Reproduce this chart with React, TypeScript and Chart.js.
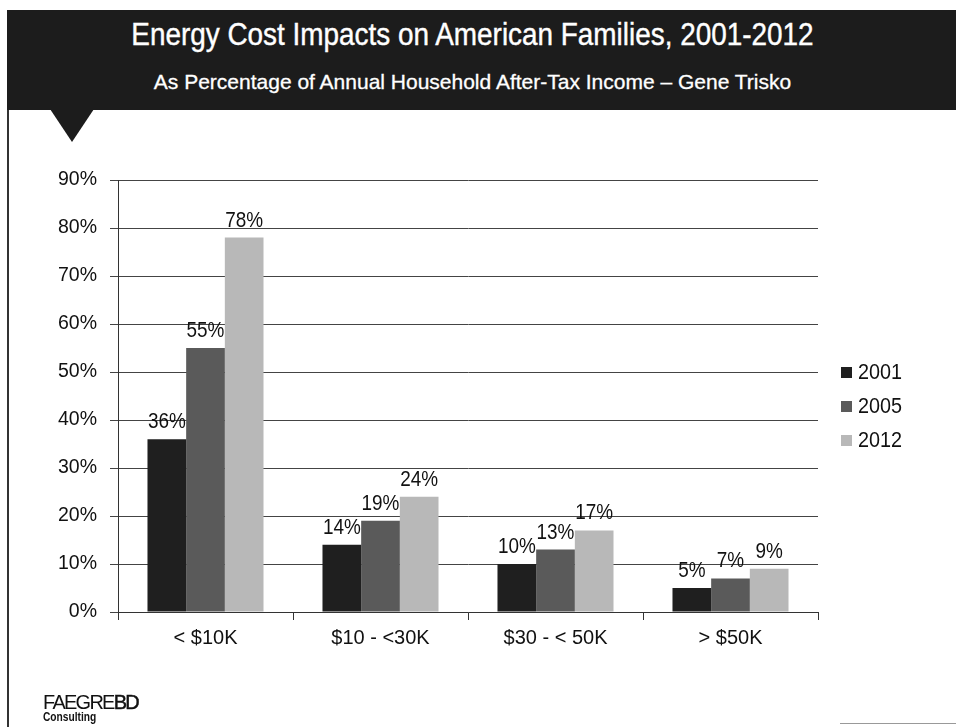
import React, { useEffect, useRef } from "react";
import { Chart, registerables } from "chart.js";

Chart.register(...registerables);

const categories = ["< $10K", "$10 - <30K", "$30 - < 50K", "> $50K"];
const seriesNames = ["2001", "2005", "2012"];
const values2001 = [36, 14, 10, 5];
const values2005 = [55, 19, 13, 7];
const values2012 = [78, 24, 17, 9];
const seriesColors = ["#1f1f1f", "#5a5a5a", "#b8b8b8"];
const yTicks = [0, 10, 20, 30, 40, 50, 60, 70, 80, 90];

const FONT = "'Liberation Sans', Arial, sans-serif";

const dataLabelPlugin = {
  id: "dataLabels",
  afterDatasetsDraw(chart: any) {
    const ctx = chart.ctx;
    chart.data.datasets.forEach((ds: any, i: number) => {
      const meta = chart.getDatasetMeta(i);
      meta.data.forEach((el: any, j: number) => {
        ctx.save();
        ctx.font = `22px ${FONT}`;
        ctx.fillStyle = "#111";
        ctx.textAlign = "center";
        ctx.textBaseline = "alphabetic";
        ctx.translate(el.x, el.y - 11);
        ctx.scale(0.86, 1);
        ctx.fillText(ds.data[j] + "%", 0, 0);
        ctx.restore();
      });
    });
  },
};

const legendPlugin = {
  id: "customLegend",
  afterDraw(chart: any) {
    const ctx = chart.ctx;
    const area = chart.chartArea;
    chart.data.datasets.forEach((ds: any, i: number) => {
      const y = 372 + i * 34;
      const x = area.right + 23;
      ctx.save();
      ctx.fillStyle = ds.backgroundColor;
      ctx.fillRect(x, y - 5, 11, 11);
      ctx.font = `22px ${FONT}`;
      ctx.textBaseline = "middle";
      ctx.textAlign = "left";
      ctx.fillStyle = "#111";
      ctx.translate(x + 17, y + 1);
      ctx.scale(0.9, 1);
      ctx.fillText(ds.label, 0, 0);
      ctx.restore();
    });
  },
};

export default function App() {
  const ref = useRef<HTMLCanvasElement | null>(null);
  useEffect(() => {
    if (!ref.current) return;
    const chart = new Chart(ref.current, {
      type: "bar",
      data: {
        labels: categories,
        datasets: [values2001, values2005, values2012].map((d, i) => ({
          label: seriesNames[i],
          data: d,
          backgroundColor: seriesColors[i],
          categoryPercentage: 0.663,
          barPercentage: 1,
          borderWidth: 0,
        })),
      },
      options: {
        animation: false,
        responsive: false,
        layout: { padding: { top: 180, left: 0, right: 138, bottom: 0 } },
        plugins: {
          legend: { display: false },
          tooltip: { enabled: false },
          title: { display: false },
        },
        scales: {
          x: {
            afterFit: (s: any) => {
              s.height = 115;
            },
            grid: {
              offset: true,
              drawOnChartArea: false,
              drawTicks: true,
              tickLength: 8,
              color: "#333",
            },
            border: { display: true, color: "#333", width: 1 },
            ticks: {
              padding: 6,
              color: "#111",
              font: { family: FONT, size: 20 },
            },
          },
          y: {
            min: 0,
            max: 90,
            afterFit: (s: any) => {
              s.width = 118;
            },
            afterBuildTicks: (s: any) => {
              s.ticks = yTicks.map((v) => ({ value: v }));
            },
            grid: {
              color: "#444",
              lineWidth: 1,
              drawTicks: true,
              tickLength: 8,
            },
            border: { display: true, color: "#333", width: 1 },
            ticks: {
              padding: 13,
              color: "#111",
              font: { family: FONT, size: 19.5 },
              callback: (v: any) => v + "%",
            },
          },
        },
      },
      plugins: [dataLabelPlugin, legendPlugin],
    });
    return () => chart.destroy();
  }, []);

  return (
    <div
      style={{
        position: "fixed",
        left: 0,
        top: 0,
        width: 956,
        height: 727,
        background: "#fff",
        overflow: "hidden",
        fontFamily: FONT,
      }}
    >
      <div
        style={{
          position: "absolute",
          left: 7,
          top: 10,
          width: 949,
          height: 100,
          background: "#1c1c1c",
        }}
      />
      <div
        style={{
          position: "absolute",
          left: 50,
          top: 109,
          width: 0,
          height: 0,
          borderLeft: "22px solid transparent",
          borderRight: "22px solid transparent",
          borderTop: "33px solid #1c1c1c",
        }}
      />
      <div
        style={{
          position: "absolute",
          left: 7,
          top: 110,
          width: 2,
          height: 617,
          background: "#333",
        }}
      />
      <div
        style={{
          position: "absolute",
          left: 0,
          top: 17,
          width: 945,
          textAlign: "center",
          color: "#fff",
          fontSize: 31,
          lineHeight: "36px",
          whiteSpace: "nowrap",
          transform: "scaleX(0.9)",
          transformOrigin: "472px 0",
          WebkitTextStroke: "0.4px #fff",
        }}
      >
        Energy Cost Impacts on American Families, 2001-2012
      </div>
      <div
        style={{
          position: "absolute",
          left: 0,
          top: 70,
          width: 945,
          textAlign: "center",
          color: "#fff",
          fontSize: 21,
          lineHeight: "24px",
          whiteSpace: "nowrap",
          WebkitTextStroke: "0.3px #fff",
        }}
      >
        As Percentage of Annual Household After-Tax Income – Gene Trisko
      </div>
      <canvas
        ref={ref}
        width={956}
        height={727}
        style={{ position: "absolute", left: 0, top: 0, width: 956, height: 727 }}
      />
      <div
        style={{
          position: "absolute",
          left: 43,
          top: 691,
          color: "#111",
          fontSize: 21,
          lineHeight: "22px",
          letterSpacing: -1.8,
          whiteSpace: "nowrap",
          transform: "scaleX(0.95)",
          transformOrigin: "0 0",
        }}
      >
        <span>FAEGRE</span>
        <span style={{ WebkitTextStroke: "0.5px #111" }}>BD</span>
      </div>
      <div
        style={{
          position: "absolute",
          left: 43,
          top: 711,
          color: "#111",
          fontSize: 12,
          lineHeight: "13px",
          fontWeight: 700,
          whiteSpace: "nowrap",
          transform: "scaleX(0.85)",
          transformOrigin: "0 0",
        }}
      >
        Consulting
      </div>
      <div
        style={{
          position: "absolute",
          left: 840,
          top: 723,
          width: 116,
          height: 1,
          background: "#999",
        }}
      />
    </div>
  );
}
